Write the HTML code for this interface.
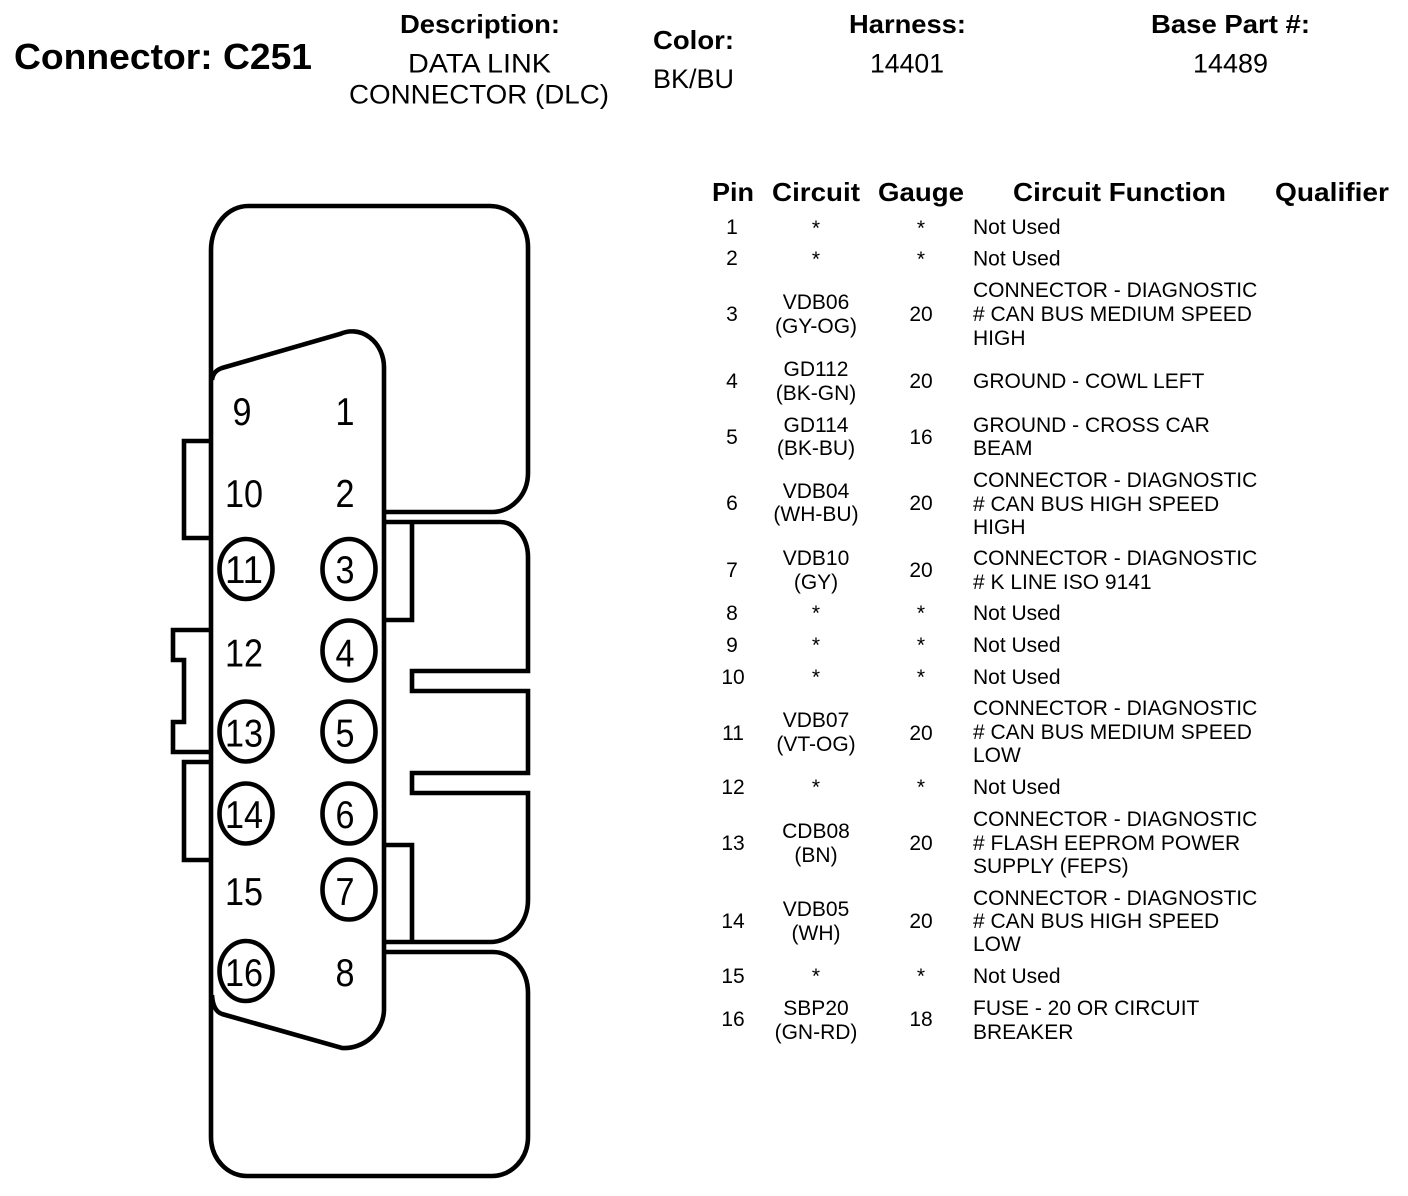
<!DOCTYPE html>
<html><head><meta charset="utf-8"><style>
html,body{margin:0;padding:0;background:#fff}
svg{display:block}
text{font-family:"Liberation Sans",Arial,sans-serif;fill:#000}
.b{font-weight:bold;font-size:26px}
.h{font-size:27px}
.t{font-size:21px}
.m{text-anchor:middle}
.n{font-size:39px;text-anchor:middle}
.l{fill:none;stroke:#000;stroke-width:4.6}
.c{fill:none;stroke:#000;stroke-width:4.6}
</style></head><body>
<svg width="1408" height="1196" viewBox="0 0 1408 1196" xmlns="http://www.w3.org/2000/svg">
<rect width="1408" height="1196" fill="#fff"/>
<text x="14" y="69" style="font-weight:bold;font-size:36px" textLength="298" lengthAdjust="spacingAndGlyphs">Connector: C251</text>
<text class="b" x="400" y="33" textLength="160" lengthAdjust="spacingAndGlyphs">Description:</text>
<text class="h" x="408" y="72.5" textLength="143" lengthAdjust="spacingAndGlyphs">DATA LINK</text>
<text class="h" x="349" y="103.5" textLength="260" lengthAdjust="spacingAndGlyphs">CONNECTOR (DLC)</text>
<text class="b" x="653" y="49" textLength="81" lengthAdjust="spacingAndGlyphs">Color:</text>
<text class="h" x="653" y="88" textLength="81" lengthAdjust="spacingAndGlyphs">BK/BU</text>
<text class="b" x="849" y="33" textLength="117" lengthAdjust="spacingAndGlyphs">Harness:</text>
<text class="h" x="870" y="72.5" textLength="74" lengthAdjust="spacingAndGlyphs">14401</text>
<text class="b" x="1151" y="33" textLength="159" lengthAdjust="spacingAndGlyphs">Base Part #:</text>
<text class="h" x="1193" y="72.5" textLength="75" lengthAdjust="spacingAndGlyphs">14489</text>

<path class="l" d="M384 512H492A36 39 0 0 0 528 473V247A38 41 0 0 0 490 206H248A37 44 0 0 0 211 250V1137A36 39 0 0 0 247 1176H492A36 39 0 0 0 528 1137V993A35 41 0 0 0 493 952H384"/>
<path class="l" d="M384 522H500A28 35 0 0 1 528 557V671H412V691H528V773H412V793H528V900A38 42 0 0 1 490 942H384"/>
<path class="l" d="M384 620H412V522M384 845H412V942"/>
<path class="l" d="M212 380Q213 371 222 368L340 334A32 36 0 0 1 384 367V1010A40 39 0 0 1 342 1048L222 1014Q213 1011 212 995"/>
<path class="l" d="M210 441H184V538H210M210 630H173V660H184V722H173V752H210M210 762H184V860H210"/>

<ellipse class="c" cx="246" cy="569" rx="26.5" ry="30"/><ellipse class="c" cx="349" cy="569" rx="26.5" ry="30"/>
<ellipse class="c" cx="349" cy="650.5" rx="26.5" ry="30"/>
<ellipse class="c" cx="246" cy="731.5" rx="26.5" ry="30"/><ellipse class="c" cx="349" cy="731.5" rx="26.5" ry="30"/>
<ellipse class="c" cx="246" cy="813.5" rx="26.5" ry="30"/><ellipse class="c" cx="349" cy="813.5" rx="26.5" ry="30"/>
<ellipse class="c" cx="349" cy="889.5" rx="26.5" ry="30"/>
<ellipse class="c" cx="246" cy="971" rx="26.5" ry="30"/>

<text class="n" x="242" y="425" textLength="19" lengthAdjust="spacingAndGlyphs">9</text>
<text class="n" x="345" y="425" textLength="19" lengthAdjust="spacingAndGlyphs">1</text>
<text class="n" x="244" y="507" textLength="38" lengthAdjust="spacingAndGlyphs">10</text>
<text class="n" x="345" y="507" textLength="19" lengthAdjust="spacingAndGlyphs">2</text>
<text class="n" x="244" y="583" textLength="38" lengthAdjust="spacingAndGlyphs">11</text>
<text class="n" x="345" y="583" textLength="19" lengthAdjust="spacingAndGlyphs">3</text>
<text class="n" x="244" y="666.5" textLength="38" lengthAdjust="spacingAndGlyphs">12</text>
<text class="n" x="345" y="666.5" textLength="19" lengthAdjust="spacingAndGlyphs">4</text>
<text class="n" x="244" y="746.5" textLength="38" lengthAdjust="spacingAndGlyphs">13</text>
<text class="n" x="345" y="746.5" textLength="19" lengthAdjust="spacingAndGlyphs">5</text>
<text class="n" x="244" y="828" textLength="38" lengthAdjust="spacingAndGlyphs">14</text>
<text class="n" x="345" y="828" textLength="19" lengthAdjust="spacingAndGlyphs">6</text>
<text class="n" x="244" y="905" textLength="38" lengthAdjust="spacingAndGlyphs">15</text>
<text class="n" x="345" y="905" textLength="19" lengthAdjust="spacingAndGlyphs">7</text>
<text class="n" x="244" y="986" textLength="38" lengthAdjust="spacingAndGlyphs">16</text>
<text class="n" x="345" y="986" textLength="19" lengthAdjust="spacingAndGlyphs">8</text>

<text class="b" x="712" y="201" textLength="42" lengthAdjust="spacingAndGlyphs">Pin</text>
<text class="b" x="772" y="201" textLength="88" lengthAdjust="spacingAndGlyphs">Circuit</text>
<text class="b" x="878" y="201" textLength="86" lengthAdjust="spacingAndGlyphs">Gauge</text>
<text class="b" x="1013" y="201" textLength="213" lengthAdjust="spacingAndGlyphs">Circuit Function</text>
<text class="b" x="1275" y="201" textLength="114" lengthAdjust="spacingAndGlyphs">Qualifier</text>

<g class="t">
<text class="t m" x="732" y="234">1</text><text class="t m" x="816" y="235">*</text><text class="t m" x="921" y="235">*</text><text class="t" x="973" y="234">Not Used</text>
<text class="t m" x="732" y="265">2</text><text class="t m" x="816" y="266">*</text><text class="t m" x="921" y="266">*</text><text class="t" x="973" y="265.5">Not Used</text>

<text class="t m" x="732" y="321">3</text><text class="t m" x="816" y="309">VDB06</text><text class="t m" x="816" y="333">(GY-OG)</text><text class="t m" x="921" y="321">20</text>
<text class="t" x="973" y="297">CONNECTOR - DIAGNOSTIC</text><text class="t" x="973" y="321"># CAN BUS MEDIUM SPEED</text><text class="t" x="973" y="345">HIGH</text>

<text class="t m" x="732" y="388">4</text><text class="t m" x="816" y="376">GD112</text><text class="t m" x="816" y="400">(BK-GN)</text><text class="t m" x="921" y="388">20</text>
<text class="t" x="973" y="388">GROUND - COWL LEFT</text>

<text class="t m" x="732" y="444">5</text><text class="t m" x="816" y="432">GD114</text><text class="t m" x="816" y="455">(BK-BU)</text><text class="t m" x="921" y="444">16</text>
<text class="t" x="973" y="432">GROUND - CROSS CAR</text><text class="t" x="973" y="455">BEAM</text>

<text class="t m" x="732" y="510">6</text><text class="t m" x="816" y="498">VDB04</text><text class="t m" x="816" y="521">(WH-BU)</text><text class="t m" x="921" y="510">20</text>
<text class="t" x="973" y="487">CONNECTOR - DIAGNOSTIC</text><text class="t" x="973" y="511"># CAN BUS HIGH SPEED</text><text class="t" x="973" y="534">HIGH</text>

<text class="t m" x="732" y="577">7</text><text class="t m" x="816" y="565">VDB10</text><text class="t m" x="816" y="589">(GY)</text><text class="t m" x="921" y="577">20</text>
<text class="t" x="973" y="565">CONNECTOR - DIAGNOSTIC</text><text class="t" x="973" y="589"># K LINE ISO 9141</text>

<text class="t m" x="732" y="620">8</text><text class="t m" x="816" y="620">*</text><text class="t m" x="921" y="620">*</text><text class="t" x="973" y="620">Not Used</text>
<text class="t m" x="732" y="652">9</text><text class="t m" x="816" y="652">*</text><text class="t m" x="921" y="652">*</text><text class="t" x="973" y="652">Not Used</text>
<text class="t m" x="733" y="684">10</text><text class="t m" x="816" y="684">*</text><text class="t m" x="921" y="684">*</text><text class="t" x="973" y="684">Not Used</text>

<text class="t m" x="733" y="740">11</text><text class="t m" x="816" y="727">VDB07</text><text class="t m" x="816" y="751">(VT-OG)</text><text class="t m" x="921" y="740">20</text>
<text class="t" x="973" y="715">CONNECTOR - DIAGNOSTIC</text><text class="t" x="973" y="739"># CAN BUS MEDIUM SPEED</text><text class="t" x="973" y="762">LOW</text>

<text class="t m" x="733" y="794">12</text><text class="t m" x="816" y="794">*</text><text class="t m" x="921" y="794">*</text><text class="t" x="973" y="794">Not Used</text>

<text class="t m" x="733" y="850">13</text><text class="t m" x="816" y="838">CDB08</text><text class="t m" x="816" y="862">(BN)</text><text class="t m" x="921" y="850">20</text>
<text class="t" x="973" y="826">CONNECTOR - DIAGNOSTIC</text><text class="t" x="973" y="850"># FLASH EEPROM POWER</text><text class="t" x="973" y="873">SUPPLY (FEPS)</text>

<text class="t m" x="733" y="928">14</text><text class="t m" x="816" y="916">VDB05</text><text class="t m" x="816" y="940">(WH)</text><text class="t m" x="921" y="928">20</text>
<text class="t" x="973" y="905">CONNECTOR - DIAGNOSTIC</text><text class="t" x="973" y="928"># CAN BUS HIGH SPEED</text><text class="t" x="973" y="951">LOW</text>

<text class="t m" x="733" y="983">15</text><text class="t m" x="816" y="983">*</text><text class="t m" x="921" y="983">*</text><text class="t" x="973" y="983">Not Used</text>

<text class="t m" x="733" y="1026">16</text><text class="t m" x="816" y="1015">SBP20</text><text class="t m" x="816" y="1039">(GN-RD)</text><text class="t m" x="921" y="1026">18</text>
<text class="t" x="973" y="1015">FUSE - 20 OR CIRCUIT</text><text class="t" x="973" y="1039">BREAKER</text>
</g>
</svg>
</body></html>
